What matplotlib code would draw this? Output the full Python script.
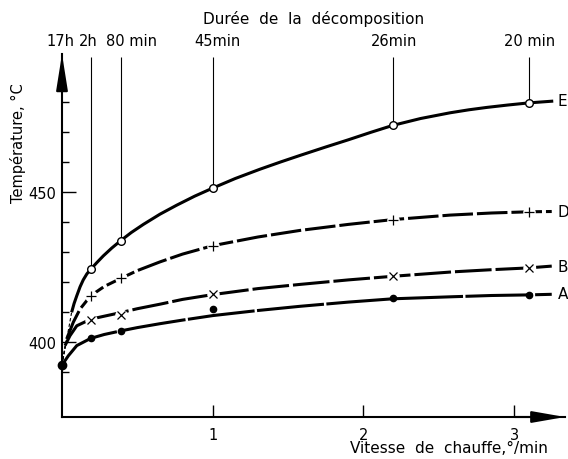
import matplotlib
matplotlib.use("Agg")
import matplotlib.pyplot as plt
from matplotlib.transforms import blended_transform_factory

plt.rcParams['font.family'] = ['DejaVu Sans']

# ---------------- data ----------------
# top axis: decomposition duration at given heating rates
dur_labels = ["17h", "2h", "80 min", "45min", "26min", "20 min"]
dur_x = [0.0, 0.19, 0.39, 1.0, 2.195, 3.097]

# measured points (marker positions)
mk_x = [0.19, 0.39, 1.0, 2.195, 3.097]
E_mk = [424.3, 433.8, 451.3, 472.4, 479.7]
D_mk = [415.4, 421.2, 432.1, 440.8, 443.4]
B_mk = [407.3, 409.1, 416.0, 421.9, 424.7]
A_mk = [401.2, 403.6, 411.0, 414.6, 415.7]

# common starting point
origin_x = [0.0]
origin_T = [392.3]

# traced curve paths
E_line_x = [0.064, 0.08, 0.098, 0.12, 0.141, 0.165, 0.19, 0.23, 0.274, 0.33, 0.39,
            0.46, 0.54, 0.65, 0.761, 0.88, 1.0, 1.15, 1.314, 1.45, 1.58, 1.75, 1.9,
            2.05, 2.195, 2.38, 2.575, 2.7, 2.82, 2.96, 3.097, 3.26]
E_line_T = [409.9, 412.8, 415.4, 418.4, 420.7, 422.7, 424.2, 426.4, 428.7, 431.3, 433.8,
            436.5, 439.2, 442.6, 445.6, 448.6, 451.3, 454.5, 457.6, 460.0, 462.2, 465.0, 467.4,
            469.9, 472.2, 474.5, 476.4, 477.4, 478.2, 479.0, 479.7, 480.3]

D_line_x = [0.031, 0.075, 0.12, 0.19, 0.28, 0.39, 0.5, 0.65, 0.8, 1.0, 1.3, 1.58, 1.9,
            2.195, 2.575, 2.85, 3.097, 3.25]
D_line_T = [401.0, 406.6, 411.0, 415.4, 418.5, 421.2, 423.8, 426.7, 429.3, 432.1, 435.0,
            437.2, 439.2, 440.8, 442.3, 443.0, 443.4, 443.5]

B_line_x = [0.02, 0.053, 0.098, 0.19, 0.28, 0.39, 0.5, 0.65, 0.8, 1.0, 1.3, 1.58, 1.9,
            2.195, 2.6, 2.85, 3.097, 3.25]
B_line_T = [398.8, 402.1, 405.4, 407.6, 408.6, 409.8, 411.1, 412.6, 414.2, 415.8, 417.8,
            419.2, 420.7, 421.9, 423.4, 424.1, 424.7, 425.3]

A_line_x = [0.0, 0.042, 0.098, 0.19, 0.28, 0.39, 0.5, 0.65, 0.8, 1.0, 1.3, 1.58, 1.9,
            2.195, 2.6, 2.85, 3.097, 3.25]
A_line_T = [392.3, 395.4, 398.8, 401.2, 402.5, 403.7, 404.8, 406.1, 407.3, 408.8, 410.5,
            411.9, 413.3, 414.4, 415.1, 415.5, 415.7, 415.9]

curve_names = ["E", "D", "B", "A"]
curve_label_T = [480.5, 443.5, 425.3, 416.0]

y_major = [400, 450]
y_minor = [390, 410, 420, 430, 440, 460, 470, 480]
x_ticks = [1, 2, 3]

# ---------------- figure ----------------
W, H = 568, 460
fig = plt.figure(figsize=(W / 100, H / 100), dpi=100)
ax = fig.add_axes([62 / W, 42 / H, 503 / W, 363 / H])
ax.set_xlim(0, 3.338)
ax.set_ylim(375, 496)

for s in ["top", "right"]:
    ax.spines[s].set_visible(False)
for s in ["left", "bottom"]:
    ax.spines[s].set_linewidth(1.5)

ax.set_yticks(y_major)
ax.set_yticklabels([str(v) for v in y_major])
ax.set_yticks(y_minor, minor=True)
ax.set_xticks(x_ticks)
ax.set_xticklabels([str(v) for v in x_ticks])
ax.tick_params(axis="y", which="major", direction="in", length=10, width=1.0,
               labelsize=10.5, pad=4)
ax.tick_params(axis="y", which="minor", direction="in", length=5, width=1.0)
ax.tick_params(axis="x", which="major", direction="in", length=9, width=1.0,
               labelsize=10.5, pad=7)

# axis arrowheads
ax.annotate("", xy=(0, 1), xycoords="axes fraction", xytext=(0, 0.9),
            arrowprops=dict(arrowstyle="-|>,head_length=2.2,head_width=0.35",
                            color="k", lw=1.5, shrinkA=0, shrinkB=0,
                            mutation_scale=10), annotation_clip=False)
ax.annotate("", xy=(1, 0), xycoords="axes fraction", xytext=(0.9, 0),
            arrowprops=dict(arrowstyle="-|>,head_length=2.0,head_width=0.35",
                            color="k", lw=1.5, shrinkA=0, shrinkB=0,
                            mutation_scale=10), annotation_clip=False)

LW = 2.2
# thin dashed extrapolations to the origin
for lx, lt in [(E_line_x, E_line_T), (D_line_x, D_line_T), (B_line_x, B_line_T)]:
    ax.plot([origin_x[0], lx[0]], [origin_T[0], lt[0]], color="k", lw=0.8,
            dashes=(3, 2), clip_on=False)

# curves
ax.plot(E_line_x, E_line_T, color="k", lw=LW, solid_capstyle="butt",
        solid_joinstyle="round", clip_on=False)
ax.plot(D_line_x, D_line_T, color="k", lw=LW, dashes=(10, 1.3), clip_on=False)
ax.plot(B_line_x, B_line_T, color="k", lw=LW, dashes=(12, 1.3), clip_on=False)
ax.plot(A_line_x, A_line_T, color="k", lw=LW, dashes=(22, 0.8), clip_on=False)

# vertical duration lines from curve E markers up to the top
top_T = 495
for xv, tv in zip(mk_x, E_mk):
    ax.vlines(xv, tv, top_T, color="k", lw=0.8)

# markers
ax.plot(mk_x, D_mk, ls="none", marker="o", ms=9, mfc="white", mec="none", zorder=4)
ax.plot(mk_x, B_mk, ls="none", marker="o", ms=9, mfc="white", mec="none", zorder=4)
ax.plot(mk_x, E_mk, ls="none", marker="o", ms=5.5, mfc="white", mec="k", mew=1.0, zorder=5)
ax.plot(mk_x, D_mk, ls="none", marker="+", ms=7.5, mec="k", mew=0.9, zorder=5)
ax.plot(mk_x, B_mk, ls="none", marker="x", ms=6, mec="k", mew=0.9, zorder=5)
ax.plot(mk_x, A_mk, ls="none", marker="o", ms=4.5, mfc="k", mec="k", zorder=5)
ax.plot(origin_x, origin_T, ls="none", marker="o", ms=6, mfc="k", mec="k", zorder=6,
        clip_on=False)

# curve labels
for name, tv in zip(curve_names, curve_label_T):
    ax.text(3.29, tv, name, fontsize=11, ha="left", va="center")

# top duration labels
trans = blended_transform_factory(ax.transData, fig.transFigure)
dur_offsets_px = [-2, -2, 11, 5, 1, 1]
for lab, xv, off in zip(dur_labels, dur_x, dur_offsets_px):
    ax.annotate(lab, xy=(xv, 1 - 42 / H), xycoords=trans,
                xytext=(off * 0.72, 0), textcoords="offset points",
                ha="center", va="center", fontsize=10.5, annotation_clip=False)

fig.text(314 / W, 1 - 19 / H, "Durée  de  la  décomposition", ha="center",
         va="center", fontsize=11)
fig.text(449 / W, 1 - 449 / H, "Vitesse  de  chauffe,°/min", ha="center",
         va="center", fontsize=11)
fig.text(18 / W, 1 - 143 / H, "Température, °C", ha="center", va="center",
         rotation=90, fontsize=10.5)

fig.savefig("out.png", dpi=100)
